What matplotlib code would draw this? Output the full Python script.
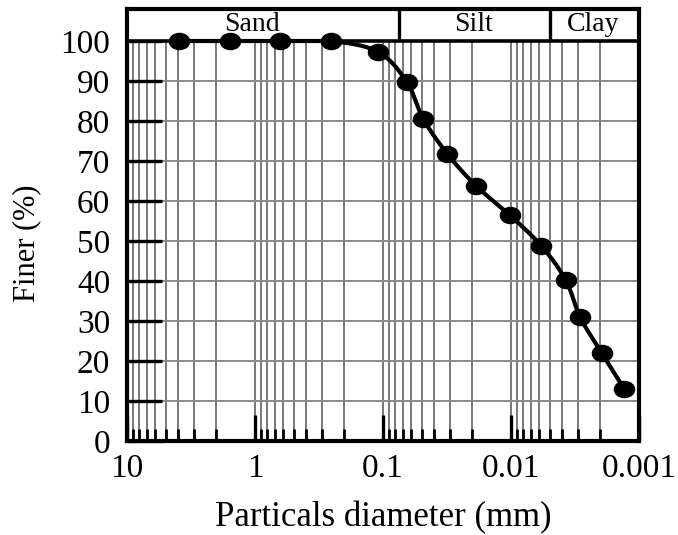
import matplotlib
matplotlib.use('Agg')
import matplotlib.pyplot as plt
from matplotlib.ticker import FixedLocator, LogLocator, NullFormatter
from matplotlib.path import Path
import numpy as np

plt.rcParams['font.family'] = ['Liberation Serif', 'DejaVu Serif']

# grain size distribution (hydrometer + sieve)
diameter = [3.90, 1.568, 0.634, 0.2548, 0.1094, 0.0653, 0.0484, 0.03146,
            0.01877, 0.01024, 0.0058, 0.00374, 0.002875, 0.001946, 0.001302]
finer = [100, 100, 100, 100, 97.3, 89.8, 80.5, 71.8,
         63.8, 56.5, 48.8, 40.25, 30.9, 21.9, 13.0]

# soil class boundaries (mm) and band labels
class_bounds = [0.075, 0.005]
class_names = ["Sand", "Silt", "Clay"]
class_label_x = [1.05, 0.0198, 0.00229]

x_major = [10, 1, 0.1, 0.01, 0.001]
x_major_labels = ["10", "1", "0.1", "0.01", "0.001"]
y_ticks = list(range(0, 101, 10))


def smooth_curve(u, y, n=40):
    # cubic bezier through the points, control points from neighbours (1/6 rule)
    P = np.column_stack([u, y])
    Pe = np.vstack([P[0], P, P[-1]])
    t = np.linspace(0, 1, n)[:, None]
    out = []
    for i in range(len(P) - 1):
        p0, p3 = P[i], P[i + 1]
        p1 = p0 + (Pe[i + 2] - Pe[i]) / 6
        p2 = p3 - (Pe[i + 3] - Pe[i + 1]) / 6
        seg = (1 - t)**3 * p0 + 3 * (1 - t)**2 * t * p1 + 3 * (1 - t) * t**2 * p2 + t**3 * p3
        out.append(seg if i == 0 else seg[1:])
    return np.vstack(out)


fig = plt.figure(figsize=(6.78, 5.35), dpi=100)
fig.patch.set_facecolor('white')
ax = fig.add_axes([127 / 678, 1 - 441 / 535, 512 / 678, 432 / 535])

ax.set_xscale('log')
ax.set_xlim(10, 0.001)
ax.set_ylim(0, 108)

# grid below, white band on top of it
ax.set_axisbelow(True)
ax.grid(which='both', axis='x', color='#555555', lw=1.1)
ax.grid(which='major', axis='y', color='#8a8a8a', lw=1.4)
ax.axhspan(100, 108, facecolor='white', edgecolor='none', zorder=1)
ax.axhline(100, color='black', lw=2.6, zorder=3)
ax.vlines(class_bounds, 100, 108, colors='black', lw=2.4, zorder=3)
for name, xc in zip(class_names, class_label_x):
    ax.text(xc, 104.2, name, ha='center', va='center', fontsize=20, zorder=4)

# curve (percent finer can't go past 100)
u = np.log10(diameter)
curve = smooth_curve(u, finer)
curve[:, 1] = np.minimum(curve[:, 1], 100)
ax.plot(10 ** curve[:, 0], curve[:, 1], color='black', lw=3, zorder=5,
        solid_capstyle='round')
circ = Path.unit_circle()
ellipse = Path(circ.vertices * np.array([1.0, 0.8]), circ.codes)
ax.plot(diameter, finer, linestyle='none', marker=ellipse, markersize=14.5,
        color='black', zorder=6)

# ticks
ax.xaxis.set_major_locator(FixedLocator(x_major))
ax.set_xticklabels(x_major_labels)
ax.xaxis.set_minor_locator(LogLocator(base=10, subs=range(2, 10)))
ax.xaxis.set_minor_formatter(NullFormatter())
ax.set_yticks(y_ticks)
ax.tick_params(axis='x', which='major', direction='in', length=19, width=2.4,
               labelsize=24, pad=9)
ax.tick_params(axis='x', which='minor', direction='in', length=8.5, width=2.0)
ax.tick_params(axis='y', which='major', direction='in', length=25, width=2.4,
               labelsize=24, pad=12)
ax.tick_params(axis='y', which='minor', left=False)

for spine in ax.spines.values():
    spine.set_linewidth(3)
    spine.set_zorder(7)

ax.set_xlabel("Particals diameter (mm)", fontsize=25)
ax.xaxis.set_label_coords(0.5, -0.14)
ax.set_ylabel("Finer (%)", fontsize=22)
ax.yaxis.set_label_coords(-0.168, 0.458)

fig.savefig("out.png", dpi=100, facecolor='white')
